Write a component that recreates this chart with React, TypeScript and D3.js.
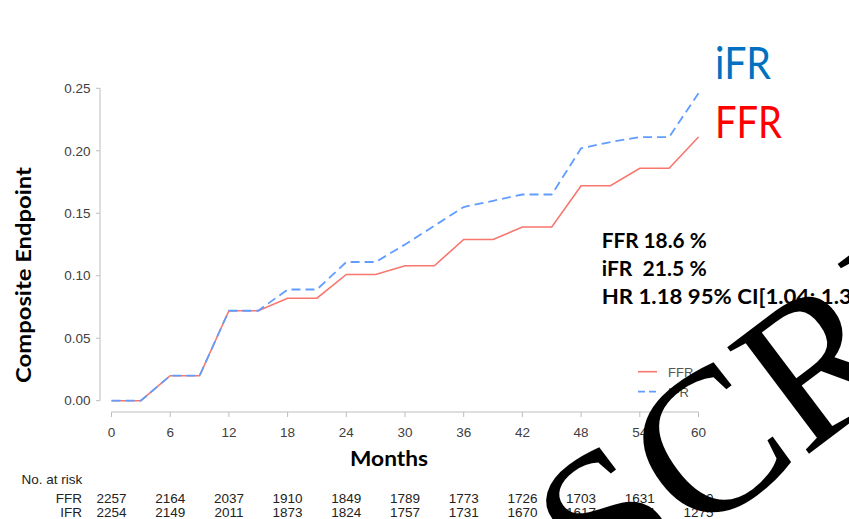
import React from "react";
import * as d3 from "d3";

const months = [0, 3, 6, 9, 12, 15, 18, 21, 24, 27, 30, 33, 36, 39, 42, 45, 48, 51, 54, 57, 60];
const ffrValues = [0, 0, 0.02, 0.02, 0.072, 0.072, 0.082, 0.082, 0.101, 0.101, 0.108, 0.108, 0.129, 0.129, 0.139, 0.139, 0.172, 0.172, 0.186, 0.186, 0.211];
const ifrValues = [0, 0, 0.02, 0.02, 0.072, 0.072, 0.089, 0.089, 0.111, 0.111, 0.125, 0.14, 0.155, 0.16, 0.165, 0.165, 0.202, 0.207, 0.211, 0.211, 0.246];

const xTicks = [0, 6, 12, 18, 24, 30, 36, 42, 48, 54, 60];
const yTicks = [0, 0.05, 0.1, 0.15, 0.2, 0.25];

const riskMonths = [0, 6, 12, 18, 24, 30, 36, 42, 48, 54, 60];
const riskFFR = ["2257", "2164", "2037", "1910", "1849", "1789", "1773", "1726", "1703", "1631", "1330"];
const riskIFR = ["2254", "2149", "2011", "1873", "1824", "1757", "1731", "1670", "1617", "1574", "1275"];

const statLines = ["FFR 18.6 %", "iFR  21.5 %", "HR 1.18 95% CI[1.04; 1.34]"];
const statWidths = [105, 105, 270];

const FFR_COLOR = "#F8766D";
const IFR_COLOR = "#619CFF";
const AXIS_COLOR = "#bdbdbd";
const TEXT_COLOR = "#404040";
const SANS = "'Liberation Sans', Arial, sans-serif";
const BOLD = "Lato, 'Open Sans', sans-serif";

export default function App() {
  const x = d3.scaleLinear().domain([0, 60]).range([111.5, 698.5]);
  const y = d3.scaleLinear().domain([0, 0.25]).range([400.7, 88.3]);

  const line = d3
    .line<number>()
    .x((_, i) => x(months[i]))
    .y((d) => y(d));

  const ffrPath = line(ffrValues) || "";
  const ifrPath = line(ifrValues) || "";

  const axisY = 412;
  const yAxisX = 100;

  return (
    <svg
      width={849}
      height={519}
      style={{ position: "absolute", left: 0, top: 0, background: "#fff" }}
    >
      <rect x={0} y={0} width={849} height={519} fill="#fff" />

      {/* Y axis */}
      <line x1={yAxisX} x2={yAxisX} y1={y(0.25)} y2={y(0)} stroke={AXIS_COLOR} strokeWidth={1} />
      {yTicks.map((t) => (
        <g key={"y" + t}>
          <line x1={yAxisX - 4} x2={yAxisX} y1={y(t)} y2={y(t)} stroke={AXIS_COLOR} />
          <text
            x={90.5}
            y={y(t)}
            dy="0.35em"
            textAnchor="end"
            fontFamily={SANS}
            fontSize={13.5}
            fill={TEXT_COLOR}
          >
            {t.toFixed(2)}
          </text>
        </g>
      ))}

      {/* X axis */}
      <line x1={x(0)} x2={x(60)} y1={axisY} y2={axisY} stroke={AXIS_COLOR} strokeWidth={1} />
      {xTicks.map((t) => (
        <g key={"x" + t}>
          <line x1={x(t)} x2={x(t)} y1={axisY} y2={axisY + 5} stroke={AXIS_COLOR} />
          <text
            x={x(t)}
            y={436.5}
            textAnchor="middle"
            fontFamily={SANS}
            fontSize={13.5}
            fill={TEXT_COLOR}
          >
            {t}
          </text>
        </g>
      ))}

      {/* Axis titles */}
      <text
        transform={`translate(31,275) rotate(-90)`}
        textAnchor="middle"
        fontFamily={BOLD}
        fontWeight="bold"
        fontSize={21}
        fill="#000"
        textLength={216}
        lengthAdjust="spacingAndGlyphs"
      >
        Composite Endpoint
      </text>
      <text
        x={389}
        y={466}
        textAnchor="middle"
        fontFamily={BOLD}
        fontWeight="bold"
        fontSize={21}
        fill="#000"
        textLength={78}
        lengthAdjust="spacingAndGlyphs"
      >
        Months
      </text>

      {/* Lines */}
      <path d={ffrPath} fill="none" stroke={FFR_COLOR} strokeWidth={1.6} />
      <path d={ifrPath} fill="none" stroke={IFR_COLOR} strokeWidth={1.8} strokeDasharray="9,5" />

      {/* Legend */}
      <line x1={638} x2={657} y1={371.7} y2={371.7} stroke={FFR_COLOR} strokeWidth={1.6} />
      <text x={668} y={376.5} fontFamily={SANS} fontSize={13} fill="#555">FFR</text>
      <line x1={638} x2={657} y1={391.7} y2={391.7} stroke={IFR_COLOR} strokeWidth={1.8} strokeDasharray="7,4" />
      <text x={668} y={396.5} fontFamily={SANS} fontSize={13} fill="#555">IFR</text>

      {/* Big labels */}
      <text x={715} y={79.3} fontFamily={BOLD} fontSize={44} fill="#0070C0" textLength={56} lengthAdjust="spacingAndGlyphs">iFR</text>
      <text x={715} y={138.3} fontFamily={BOLD} fontSize={44} fill="#FF0000" textLength={67} lengthAdjust="spacingAndGlyphs">FFR</text>

      {/* Stats */}
      {statLines.map((s, i) => (
        <text
          key={"s" + i}
          x={601.7}
          y={248.3 + i * 28}
          fontFamily={BOLD}
          fontWeight="bold"
          fontSize={20}
          fill="#000"
          style={{ whiteSpace: "pre" }}
          textLength={statWidths[i]}
          lengthAdjust="spacingAndGlyphs"
        >
          {s}
        </text>
      ))}

      {/* Risk table */}
      <text x={21.5} y={484.3} fontFamily={SANS} fontSize={13.5} fill="#222">No. at risk</text>
      <text x={82} y={502.7} textAnchor="end" fontFamily={SANS} fontSize={13.5} fill="#222">FFR</text>
      <text x={82} y={516.7} textAnchor="end" fontFamily={SANS} fontSize={13.5} fill="#222">IFR</text>
      {riskMonths.map((m, i) => (
        <g key={"r" + m}>
          <text x={x(m)} y={502.7} textAnchor="middle" fontFamily={SANS} fontSize={13.5} fill="#222">{riskFFR[i]}</text>
          <text x={x(m)} y={516.7} textAnchor="middle" fontFamily={SANS} fontSize={13.5} fill="#222">{riskIFR[i]}</text>
        </g>
      ))}

      {/* Watermark */}
      <text
        transform="translate(603,609) rotate(-37)"
        fontFamily="'Liberation Serif', 'Times New Roman', serif"
        fontSize={205}
        fill="#000"
      >
        SCRIPT
      </text>
    </svg>
  );
}
